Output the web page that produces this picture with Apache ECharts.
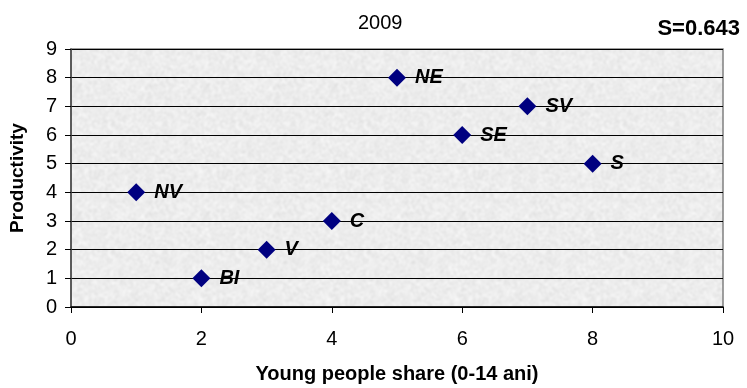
<!DOCTYPE html>
<html><head><meta charset="utf-8">
<script src="https://cdn.jsdelivr.net/npm/echarts@6/dist/echarts.min.js"></script>
<style>html,body{margin:0;padding:0;background:#fff}#c{width:747px;height:388px}</style>
</head><body><div id="c"></div>
<script>
const regions = ['NV','BI','V','C','NE','SE','SV','S'];
const youngShare = [1,2,3,4,5,6,7,8];
const productivity = [4,1,2,3,8,6,7,5];
const xTicks = [0,2,4,6,8,10];
const yTicks = [0,1,2,3,4,5,6,7,8,9];

// deterministic granite-like texture for the plot background (seamless tile)
function makeTexture(){
  const N = 128;
  const c = document.createElement('canvas');
  c.width = N; c.height = N;
  const g = c.getContext('2d');
  const img = g.createImageData(N,N);
  let s = 123456789;
  function next(){ s ^= s << 13; s ^= s >>> 17; s ^= s << 5; return ((s >>> 0) % 10000) / 10000; }
  for (let y=0;y<N;y++) for (let x=0;x<N;x++){
    const v = Math.round(218 + next()*37);
    const i = (y*N+x)*4;
    img.data[i]=v; img.data[i+1]=v; img.data[i+2]=v; img.data[i+3]=255;
  }
  g.putImageData(img,0,0);
  const big = document.createElement('canvas'); big.width=N*3; big.height=N*3;
  const gb = big.getContext('2d');
  for (let a=0;a<3;a++) for (let b=0;b<3;b++) gb.drawImage(c, a*N, b*N);
  const bl = document.createElement('canvas'); bl.width=N*3; bl.height=N*3;
  const gbl = bl.getContext('2d'); gbl.filter='blur(1px)';
  gbl.drawImage(big,0,0); gbl.filter='none';
  const out = document.createElement('canvas'); out.width=N; out.height=N;
  out.getContext('2d').drawImage(bl, N, N, N, N, 0, 0, N, N);
  return out;
}

const chart = echarts.init(document.getElementById('c'), null, {renderer:'canvas'});
const font = 'Liberation Sans, Arial, sans-serif';
chart.setOption({
  animation:false,
  backgroundColor:'#fff',
  title:[
    {text:'2009', left:353, top:8, textStyle:{fontFamily:font, fontWeight:'normal', fontSize:20, color:'#000'}},
    {text:'S=0.643', right:2, top:13, textStyle:{fontFamily:font, fontWeight:'bold', fontSize:22, color:'#000'}}
  ],
  grid:{left:71, right:24, top:49, bottom:81, show:true, outerBoundsMode:'none', containLabel:false,
    backgroundColor:{image:makeTexture(), repeat:'repeat'},
    borderColor:'#808080', borderWidth:1.5},
  xAxis:{type:'value', min:0, max:10, interval:2,
    name:'Young people share (0-14 ani)', nameLocation:'middle', nameGap:57,
    nameTextStyle:{fontFamily:font, fontWeight:'bold', fontSize:20, color:'#000'},
    axisLine:{show:true, lineStyle:{color:'#000', width:1.5}},
    axisTick:{show:true, length:6, lineStyle:{color:'#000'}},
    axisLabel:{fontFamily:font, fontSize:20, color:'#000', margin:22, formatter:v=>xTicks.includes(v)?String(v):''},
    splitLine:{show:false}},
  yAxis:{type:'value', min:0, max:9, interval:1,
    name:'Productivity', nameLocation:'middle', nameGap:44, nameRotate:90,
    nameTextStyle:{fontFamily:font, fontWeight:'bold', fontSize:19, color:'#000'},
    axisLine:{show:true, lineStyle:{color:'#444', width:1.5}},
    axisTick:{show:true, length:6, lineStyle:{color:'#000'}},
    axisLabel:{fontFamily:font, fontSize:20, color:'#000', margin:14, formatter:v=>yTicks.includes(v)?String(v):''},
    splitLine:{show:true, lineStyle:{color:'#000', width:1}}},
  series:[{
    type:'scatter', symbol:'diamond', symbolSize:18,
    itemStyle:{color:'#000080', opacity:1},
    data: youngShare.map((x,i)=>({value:[x, productivity[i]], name:regions[i]})),
    label:{show:true, position:'right', distance:9, formatter:p=>p.name,
      fontFamily:font, fontWeight:'bold', fontStyle:'italic', fontSize:20, color:'#000'}
  }]
});
</script></body></html>
